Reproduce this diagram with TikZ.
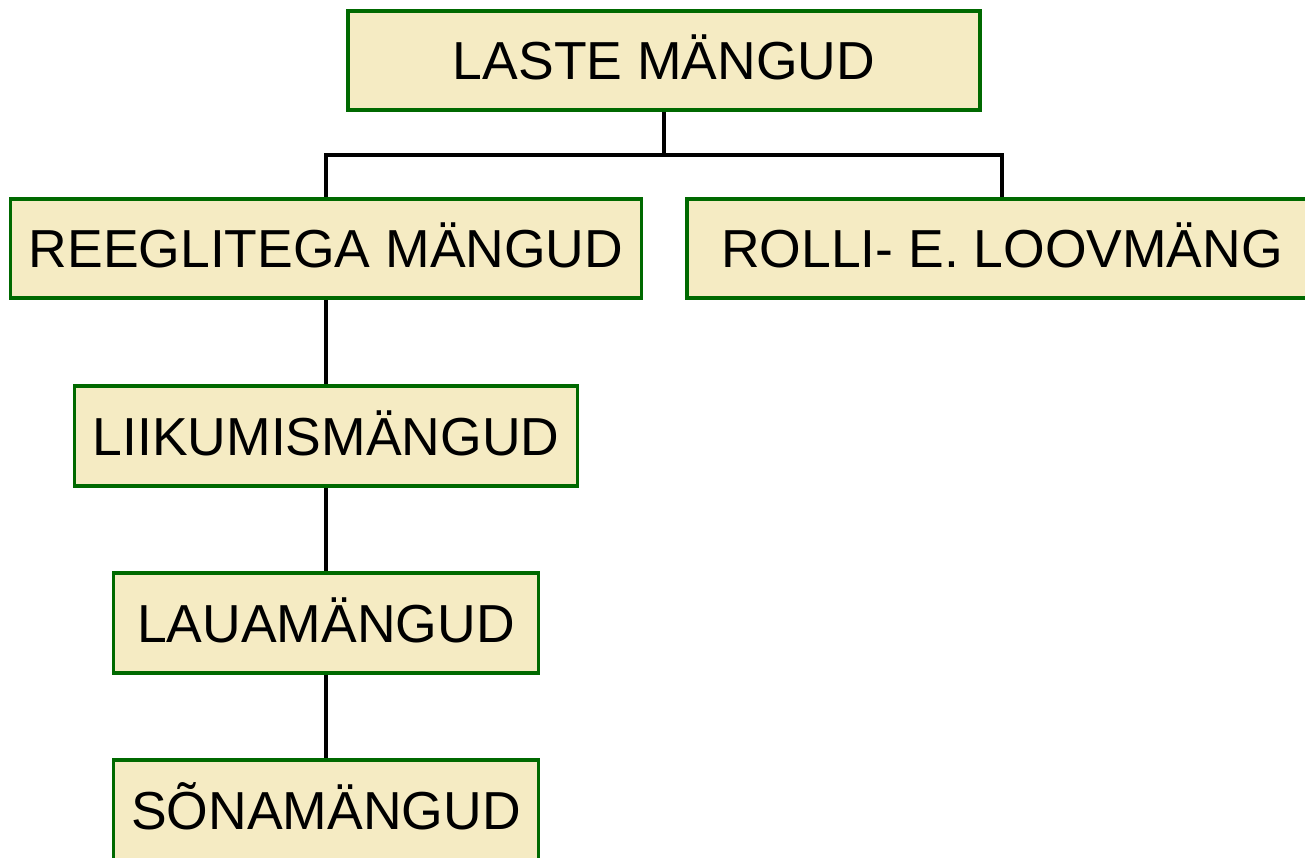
\documentclass[tikz,border=0pt]{standalone}
\usepackage{fontspec}
\setmainfont{Liberation Sans}
\definecolor{boxfill}{RGB}{245,235,195}
\definecolor{boxline}{RGB}{0,105,0}
\begin{document}
\begin{tikzpicture}[x=1pt,y=-1pt,
  box/.style={draw=boxline,fill=boxfill,line width=3.6pt,inner sep=0pt,
    font=\fontsize{53.5}{53.5}\selectfont,text=black,anchor=center,
    text height=38.3pt,text depth=0pt},
  conn/.style={draw=black,line width=3.2pt}]
\useasboundingbox (0,0) rectangle (1305,858);
\clip (0,0) rectangle (1305,858);
\fill[white] (0,0) rectangle (1305,858);
\node[box,minimum width=632pt,minimum height=99pt] (top) at (664,60.5) {LASTE MÄNGUD};
\node[box,minimum width=631pt,minimum height=99pt] (reeg) at (326,248.5) {REEGLITEGA MÄNGUD};
\node[box,minimum width=630pt,minimum height=99pt] (rolli) at (1002,248.5) {ROLLI- E. LOOVMÄNG};
\node[box,minimum width=503pt,minimum height=100pt] (liik) at (326,436) {LIIKUMISMÄNGUD};
\node[box,minimum width=425pt,minimum height=100pt] (laua) at (326,623) {LAUAMÄNGUD};
\node[box,minimum width=425pt,minimum height=100pt] (sona) at (326,810) {SÕNAMÄNGUD};
\coordinate (bar) at (664,155);
\draw[conn] (top.south) -- (bar) -| (reeg.north);
\draw[conn] (bar) -| (rolli.north);
\draw[conn] (reeg.south) -- (liik.north);
\draw[conn] (liik.south) -- (laua.north);
\draw[conn] (laua.south) -- (sona.north);
\end{tikzpicture}
\end{document}
